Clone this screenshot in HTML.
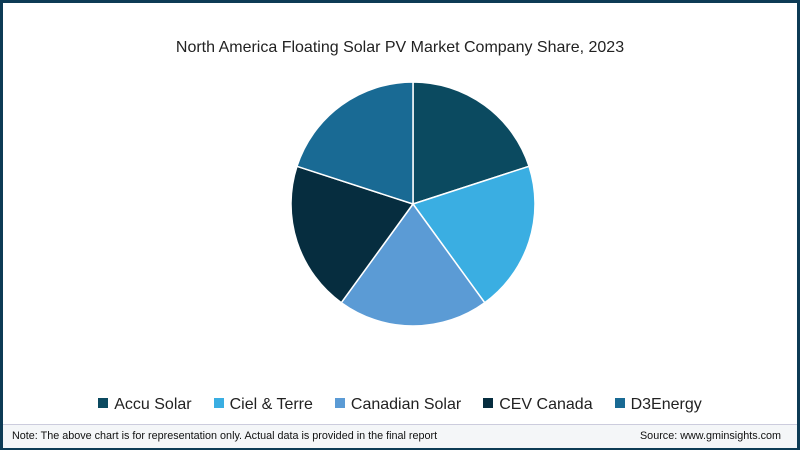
<!DOCTYPE html>
<html><head><meta charset="utf-8"><style>
body{margin:0;width:800px;height:450px;overflow:hidden;font-family:"Liberation Sans",sans-serif;}
#frame{position:absolute;left:0;top:0;width:794px;height:444px;border:3px solid #0d3b55;background:#fff;}
#title{position:absolute;top:36px;width:100%;text-align:center;font-size:16px;color:#222;}
#legend{position:absolute;top:393px;width:100%;text-align:center;font-size:16px;color:#222;}
.li{display:inline-block;margin:0 11px;}
.sw{display:inline-block;width:10px;height:10px;margin-right:6px;vertical-align:1px;}
#foot{position:absolute;left:0;top:421px;width:794px;height:23px;background:#f4f6f8;border-top:1px solid #ccd;font-size:10.8px;color:#111;}
</style></head><body>
<div id="frame">
<div id="title">North America Floating Solar PV Market Company Share, 2023</div>
<svg id="pie" width="794" height="420" style="position:absolute;left:0;top:0"></svg>
<div id="legend"></div>
<div id="foot">
<span style="position:absolute;left:9px;top:5px">Note: The above chart is for representation only. Actual data is provided in the final report</span>
<span style="position:absolute;right:16px;top:5px">Source: www.gminsights.com</span>
</div>
</div>
<script>
const categories=["Accu Solar","Ciel & Terre","Canadian Solar","CEV Canada","D3Energy"];
const values=[20,20,20,20,20];
const colors=["#0b4a60","#3aaee2","#5b9bd5","#062d3f","#196a94"];
const cx=410,cy=201,r=122;
const svg=document.getElementById('pie');
const total=values.reduce((a,b)=>a+b,0);
let a0=-Math.PI/2;
values.forEach((v,i)=>{
  const a1=a0+v/total*2*Math.PI;
  const x0=cx+r*Math.cos(a0),y0=cy+r*Math.sin(a0),x1=cx+r*Math.cos(a1),y1=cy+r*Math.sin(a1);
  const p=document.createElementNS('http://www.w3.org/2000/svg','path');
  p.setAttribute('d',`M${cx},${cy}L${x0},${y0}A${r},${r} 0 ${a1-a0>Math.PI?1:0} 1 ${x1},${y1}Z`);
  p.setAttribute('fill',colors[i]);p.setAttribute('stroke','#fff');p.setAttribute('stroke-width','1.5');
  
  
  svg.appendChild(p);a0=a1;
});
const lg=document.getElementById('legend');
categories.forEach((c,i)=>{
  const s=document.createElement('span');s.className='li';
  
  
  s.innerHTML=`<span class="sw" style="background:${colors[i]}"></span>${c.replace('&','&amp;')}`;
  lg.appendChild(s);
});
</script>
</body></html>
